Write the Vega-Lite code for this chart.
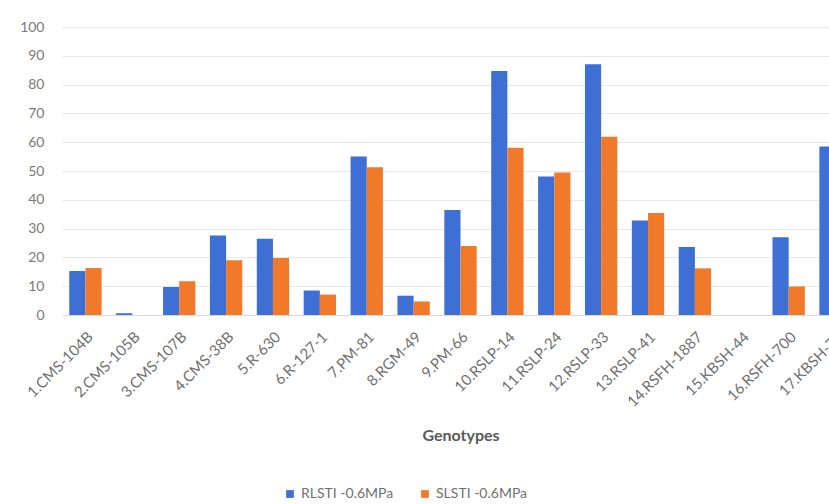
{
  "$schema": "https://vega.github.io/schema/vega-lite/v6.json",
  "autosize": {"type": "none"},
  "width": 767,
  "height": 288,
  "padding": {"left": 62, "top": 27, "right": 0, "bottom": 189},
  "background": "white",
  "data": {
    "values": [
      {"g": "1.CMS-104B", "s": "RLSTI -0.6MPa", "v": 15.3},
      {"g": "1.CMS-104B", "s": "SLSTI -0.6MPa", "v": 16.3},
      {"g": "2.CMS-105B", "s": "RLSTI -0.6MPa", "v": 0.6},
      {"g": "2.CMS-105B", "s": "SLSTI -0.6MPa", "v": 0},
      {"g": "3.CMS-107B", "s": "RLSTI -0.6MPa", "v": 9.7},
      {"g": "3.CMS-107B", "s": "SLSTI -0.6MPa", "v": 11.7},
      {"g": "4.CMS-38B", "s": "RLSTI -0.6MPa", "v": 27.6},
      {"g": "4.CMS-38B", "s": "SLSTI -0.6MPa", "v": 19.0},
      {"g": "5.R-630", "s": "RLSTI -0.6MPa", "v": 26.5},
      {"g": "5.R-630", "s": "SLSTI -0.6MPa", "v": 19.8},
      {"g": "6.R-127-1", "s": "RLSTI -0.6MPa", "v": 8.5},
      {"g": "6.R-127-1", "s": "SLSTI -0.6MPa", "v": 7.1},
      {"g": "7.PM-81", "s": "RLSTI -0.6MPa", "v": 55.0},
      {"g": "7.PM-81", "s": "SLSTI -0.6MPa", "v": 51.3},
      {"g": "8.RGM-49", "s": "RLSTI -0.6MPa", "v": 6.7},
      {"g": "8.RGM-49", "s": "SLSTI -0.6MPa", "v": 4.7},
      {"g": "9.PM-66", "s": "RLSTI -0.6MPa", "v": 36.5},
      {"g": "9.PM-66", "s": "SLSTI -0.6MPa", "v": 24.0},
      {"g": "10.RSLP-14", "s": "RLSTI -0.6MPa", "v": 84.7},
      {"g": "10.RSLP-14", "s": "SLSTI -0.6MPa", "v": 58.1},
      {"g": "11.RSLP-24", "s": "RLSTI -0.6MPa", "v": 48.1},
      {"g": "11.RSLP-24", "s": "SLSTI -0.6MPa", "v": 49.5},
      {"g": "12.RSLP-33", "s": "RLSTI -0.6MPa", "v": 87.1},
      {"g": "12.RSLP-33", "s": "SLSTI -0.6MPa", "v": 61.9},
      {"g": "13.RSLP-41", "s": "RLSTI -0.6MPa", "v": 32.8},
      {"g": "13.RSLP-41", "s": "SLSTI -0.6MPa", "v": 35.4},
      {"g": "14.RSFH-1887", "s": "RLSTI -0.6MPa", "v": 23.6},
      {"g": "14.RSFH-1887", "s": "SLSTI -0.6MPa", "v": 16.2},
      {"g": "15.KBSH-44", "s": "RLSTI -0.6MPa", "v": 0},
      {"g": "15.KBSH-44", "s": "SLSTI -0.6MPa", "v": 0},
      {"g": "16.RSFH-700", "s": "RLSTI -0.6MPa", "v": 27.0},
      {"g": "16.RSFH-700", "s": "SLSTI -0.6MPa", "v": 9.9},
      {"g": "17.KBSH-77", "s": "RLSTI -0.6MPa", "v": 58.5},
      {"g": "17.KBSH-77", "s": "SLSTI -0.6MPa", "v": 40.0}
    ]
  },
  "mark": {"type": "bar"},
  "encoding": {
    "x": {
      "field": "g",
      "type": "nominal",
      "sort": null,
      "scale": {"range": [0, 797], "paddingInner": 0.31, "paddingOuter": 0.155},
      "axis": {
        "title": "Genotypes",
        "titleFont": "Lato",
        "titleFontSize": 16,
        "titleFontWeight": "bold",
        "titleColor": "#595959",
        "titlePadding": 18,
        "labelAngle": -45,
        "labelFont": "Lato",
        "labelFontSize": 15,
        "labelColor": "#707070",
        "labelPadding": 14,
        "ticks": false,
        "domainColor": "#d9d9d9",
        "labelOverlap": false
      }
    },
    "xOffset": {"field": "s", "type": "nominal", "scale": {"paddingInner": 0}},
    "y": {
      "field": "v",
      "type": "quantitative",
      "scale": {"domain": [0, 100]},
      "axis": {
        "title": null,
        "values": [0, 10, 20, 30, 40, 50, 60, 70, 80, 90, 100],
        "labelOverlap": false,
        "labelFont": "Lato",
        "labelFontSize": 14,
        "labelColor": "#7a7a7a",
        "labelPadding": 18,
        "ticks": false,
        "domain": false,
        "gridColor": "#e8e8e8"
      }
    },
    "color": {
      "field": "s",
      "type": "nominal",
      "scale": {"range": ["#3D6FD4", "#F07A2A"]},
      "legend": {
        "title": null,
        "orient": "none",
        "direction": "horizontal",
        "legendX": 221,
        "legendY": 460,
        "symbolType": "square",
        "symbolSize": 60,
        "labelFont": "Lato",
        "labelFontSize": 14,
        "labelColor": "#707070",
        "columnPadding": 24
      }
    }
  },
  "config": {"view": {"stroke": null}}
}
